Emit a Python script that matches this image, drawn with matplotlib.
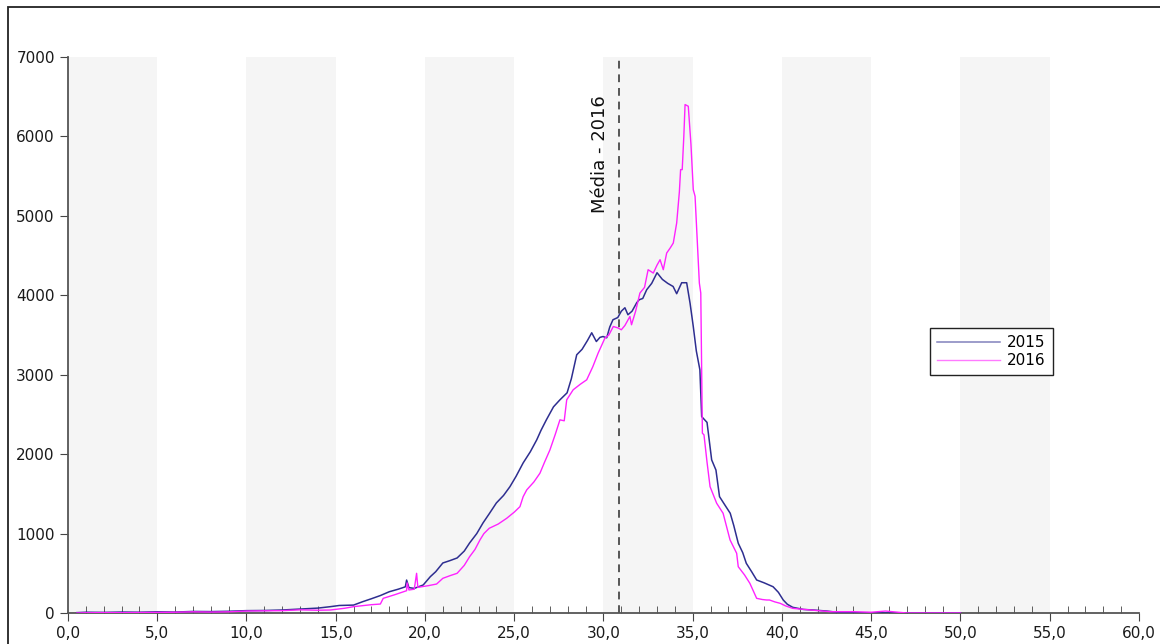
import matplotlib
matplotlib.use("Agg")
import matplotlib.pyplot as plt
from matplotlib.patches import Rectangle

# data
x_2015 = [0.5, 1, 2, 3, 4, 5, 6, 7, 8, 9, 10, 11, 12, 13, 14, 14.7, 15.2, 16, 16.5, 17,
          17.5, 18.0, 18.5, 18.9, 18.97, 19.1, 19.4, 19.9, 20.3, 20.6, 21.0, 21.4, 21.8, 22.2,
          22.5, 22.9, 23.25, 23.6, 24.0, 24.4, 24.76, 25.1, 25.5, 25.9, 26.26, 26.5, 26.8, 27.2,
          27.56, 27.96, 28.2, 28.5, 28.8, 29.1, 29.34, 29.6, 29.8, 29.97, 30.18, 30.35, 30.53,
          30.8, 31.0, 31.2, 31.37, 31.6, 31.86, 32.0, 32.2, 32.42, 32.7, 33.0, 33.3, 33.6, 33.9,
          34.1, 34.38, 34.66, 34.85, 35.03, 35.2, 35.4, 35.5, 35.8, 36.06, 36.3, 36.5, 36.8,
          37.1, 37.3, 37.55, 37.8, 38.0, 38.3, 38.58, 39.0, 39.5, 39.8, 40.07, 40.3, 40.6,
          41.2, 41.75, 42.5, 43, 43.5, 44, 45, 46, 47, 48, 49, 50]
y_2015 = [5, 10, 8, 12, 10, 15, 12, 20, 18, 22, 30, 32, 38, 50, 62, 80, 95, 100, 142, 180,
          220, 268, 300, 330, 415, 320, 310, 353, 458, 520, 630, 660, 693, 780,
          882, 1000, 1134, 1250, 1386, 1480, 1591, 1720, 1890, 2030, 2180, 2300, 2432, 2596,
          2684, 2772, 2950, 3251, 3320, 3430, 3528, 3418, 3470, 3481, 3465, 3600, 3692,
          3720, 3800, 3843, 3755, 3800, 3906, 3944, 3960, 4070, 4150, 4284, 4200, 4150, 4111,
          4020, 4158, 4158, 3900, 3607, 3300, 3062, 2473, 2400, 1928, 1800, 1465, 1360,
          1256, 1100, 878, 760, 626, 520, 416, 380, 331, 260, 164, 110, 72,
          45, 38, 25, 12, 5, 3, 2, 1, 0, 0, 0, 0]

x_2016 = [0.5, 1, 2, 3, 4, 5, 6, 7, 8, 9, 10, 11, 12, 13, 14, 14.7, 15.5, 16, 17, 17.5,
          17.66, 18.3, 18.97, 19.0, 19.1, 19.4, 19.53, 19.6, 20.2, 20.65, 21.0, 21.4, 21.8,
          22.2, 22.5, 22.8, 23.08, 23.3, 23.6, 24.1, 24.58, 25.0, 25.32, 25.5, 25.7, 26.1,
          26.44, 26.7, 27.0, 27.3, 27.56, 27.8, 27.94, 28.3, 28.7, 29.06, 29.4, 29.7, 30.08,
          30.3, 30.55, 30.8, 31.0, 31.2, 31.48, 31.57, 31.8, 32.04, 32.3, 32.5, 32.79, 33.0,
          33.17, 33.35, 33.54, 33.75, 33.91, 34.1, 34.25, 34.32, 34.41, 34.5, 34.57, 34.75,
          34.9, 35.03, 35.13, 35.25, 35.37, 35.45, 35.54, 35.63, 35.8, 35.97, 36.34, 36.7,
          37.09, 37.46, 37.55, 37.9, 38.2, 38.58, 38.9, 39.14, 39.3, 39.6, 39.9, 40.2, 40.6,
          41.5, 42.7, 44, 45, 45.8, 46.5, 47, 48, 49, 50]
y_2016 = [0, 3, 5, 4, 6, 8, 10, 15, 12, 15, 25, 28, 30, 40, 35, 38, 60, 80, 105, 113,
          185, 230, 281, 380, 290, 300, 500, 323, 345, 365, 437, 470, 500,
          600, 709, 800, 920, 1000, 1067, 1120, 1193, 1270, 1339, 1465, 1550, 1650,
          1760, 1900, 2054, 2250, 2432, 2420, 2684, 2810, 2880, 2936, 3100, 3272, 3461,
          3500, 3607, 3590, 3566, 3620, 3733, 3629, 3800, 4028, 4100, 4322, 4280, 4380,
          4448, 4322, 4532, 4600, 4658, 4910, 5300, 5582, 5582, 6000, 6401, 6380,
          5900, 5330, 5246, 4700, 4154, 4028, 2264, 2243, 1900, 1591, 1382, 1256,
          920, 752, 583, 480, 374, 185, 170, 164, 164, 140, 122, 90, 59,
          40, 17, 17, 10, 25, 10, 0, 0, 0, 0]

media_2016 = 30.87
band_starts = [0, 10, 20, 30, 40, 50]
x_ticks = [0, 5, 10, 15, 20, 25, 30, 35, 40, 45, 50, 55, 60]
x_labels = ["0,0", "5,0", "10,0", "15,0", "20,0", "25,0", "30,0", "35,0",
            "40,0", "45,0", "50,0", "55,0", "60,0"]
y_ticks = [0, 1000, 2000, 3000, 4000, 5000, 6000, 7000]


def main():
    fig = plt.figure(figsize=(11.6, 6.44), dpi=100)
    ax = fig.add_axes([0.0586, 0.0481, 0.9233, 0.8634])

    # frame around the whole picture (cropped at right/bottom)
    fig.add_artist(Rectangle((8 / 1160, -0.1), 1.2, 1.1 - 7 / 644, transform=fig.transFigure,
                             fill=False, edgecolor="#222222", linewidth=1.3))

    for b in band_starts:
        ax.axvspan(b, b + 5, color="#f5f5f5", zorder=0, linewidth=0)

    ax.plot(x_2015, y_2015, color="#2e2e90", linewidth=1.1, label="2015", zorder=3)
    ax.plot(x_2016, y_2016, color="#ff22ff", linewidth=1.0, label="2016", zorder=4)

    ax.axvline(media_2016, color="#555555", linestyle=(0, (4, 3)), linewidth=1.4, zorder=5)
    ax.text(30.3, 5780, "Média - 2016", rotation=90, ha="right", va="center",
            fontsize=13, color="#111111")

    ax.set_xlim(0, 60)
    ax.set_ylim(0, 7000)
    ax.set_xticks(x_ticks)
    ax.set_xticklabels(x_labels)
    ax.set_xticks(range(0, 61), minor=True)
    ax.set_yticks(y_ticks)
    ax.tick_params(axis="both", which="major", labelsize=11, direction="out", length=6,
                   color="#444444", labelcolor="#1a1a1a")
    ax.tick_params(axis="x", which="minor", direction="in", length=5, color="#444444")
    for s in ["top", "right"]:
        ax.spines[s].set_visible(False)
    for s in ["left", "bottom"]:
        ax.spines[s].set_color("#555555")
        ax.spines[s].set_linewidth(1.3)

    leg = ax.legend(loc="upper left", bbox_to_anchor=(0.805, 0.5126), fontsize=11,
                    fancybox=False, handlelength=4.1, handletextpad=0.5, borderpad=0.45,
                    labelspacing=0.2, borderaxespad=0, framealpha=1)
    leg.get_frame().set_edgecolor("#222222")
    leg.get_frame().set_linewidth(1.0)
    for line in leg.get_lines():
        line.set_alpha(0.6)

    fig.savefig("out.png", dpi=100)


if __name__ == '__main__':
    main()
